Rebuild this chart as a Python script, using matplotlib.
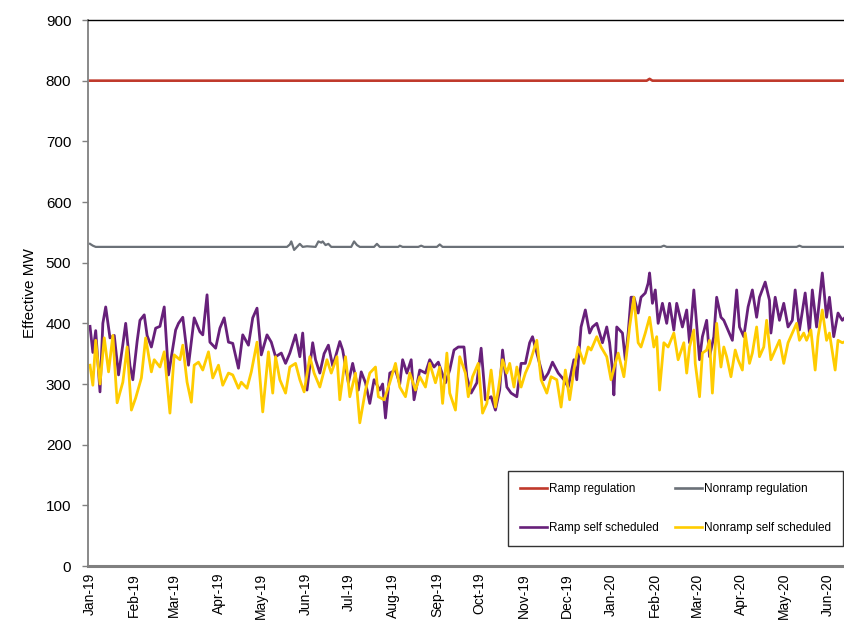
import numpy as np
import pandas as pd
import matplotlib
matplotlib.use("Agg")
import matplotlib.pyplot as plt

plt.rcParams['font.family'] = ['Liberation Sans', 'DejaVu Sans']

# ---------------- data (day offsets from 2019-01-01) ----------------
ramp_reg_days = [0, 390, 392, 394, 529]
ramp_reg_vals = [800, 800, 803, 800, 800]

nonramp_reg_days = [0, 2, 4, 138, 140, 141, 142, 143, 145, 147, 149, 152, 158, 160, 162, 163,
                    165, 167, 169, 183, 185, 187, 189, 199, 201, 203, 216, 217, 219, 230, 232,
                    234, 243, 245, 247, 400, 402, 404, 495, 497, 499, 529]
nonramp_reg_vals = [531, 528, 526, 526, 530, 535, 528, 521, 526, 531, 526, 527, 526, 535, 533, 535,
                    529, 531, 526, 526, 535, 529, 526, 526, 531, 526, 526, 528, 526, 526, 528,
                    526, 526, 530, 526, 526, 528, 526, 526, 528, 526, 526]

ramp_ss_days = [0, 2, 4, 7, 9, 11, 14, 17, 20, 23, 25, 28, 30, 33, 35, 38, 40, 43, 46, 49,
                52, 55, 58, 60, 62, 65, 69, 71, 73, 77, 79, 82, 84, 88, 91, 94, 97, 100, 104, 107,
                111, 114, 117, 120, 124, 127, 130, 134, 137, 140, 144, 147, 149, 152, 156, 158,
                161, 164, 167, 170, 172, 175, 177, 181, 184, 188, 190, 193, 196, 199, 203, 205,
                207, 210, 214, 217, 219, 222, 225, 227, 231, 235, 238, 241, 244, 249, 252, 255,
                258, 262, 264, 267, 271, 274, 277, 281, 284, 287, 289, 292, 295, 299, 302, 305,
                308, 310, 313, 318, 321, 324, 328, 332, 335, 339, 341, 344, 347, 350, 352, 355,
                359, 362, 364, 366, 367, 369, 373, 375, 377, 379, 381, 384, 386, 389, 391, 392,
                394, 396, 398, 401, 404, 406, 409, 411, 415, 418, 420, 423, 427, 429, 432, 434,
                437, 439, 442, 444, 446, 450, 453, 455, 458, 461, 464, 467, 469, 473, 476, 477,
                480, 483, 486, 489, 492, 494, 497, 501, 504, 506, 509, 513, 516, 518, 521, 524,
                527, 529]
ramp_ss_vals = [395, 352, 388, 287, 400, 427, 376, 380, 315, 365, 400, 330, 307, 370, 405, 414, 380, 361, 392, 395,
                427, 315, 360, 389, 400, 410, 331, 370, 409, 386, 381, 447, 369, 359, 392, 409, 369, 367, 326, 381,
                364, 409, 425, 348, 381, 369, 345, 351, 334, 351, 381, 345, 384, 290, 368, 340,
                318, 350, 364, 330, 345, 370, 356, 302, 334, 290, 320, 302, 268, 307, 290, 300,
                244, 318, 323, 300, 340, 318, 340, 274, 323, 318, 340, 328, 336, 302, 323, 356,
                361, 361, 312, 285, 302, 359, 274, 279, 257, 290, 356, 295, 285, 279, 334, 334,
                368, 378, 351, 307, 318, 336, 318, 307, 295, 340, 307, 394, 422, 384, 394, 400,
                368, 394, 368, 323, 282, 394, 384, 340, 384, 443, 443, 417, 443, 450, 466, 483,
                433, 455, 400, 433, 400, 433, 389, 433, 394, 422, 368, 455, 340, 378, 405, 345,
                378, 443, 410, 405, 394, 372, 455, 394, 378, 427, 455, 410, 443, 468, 438, 384,
                443, 405, 433, 394, 405, 455, 389, 450, 384, 455, 394, 483, 410, 443, 378, 417,
                405, 410]

nonramp_ss_days = [0, 2, 4, 7, 10, 13, 16, 19, 23, 26, 29, 32, 36, 39, 43, 45, 49, 52, 56, 59,
                   63, 65, 68, 71, 73, 76, 79, 83, 86, 90, 93, 97, 100, 104, 106, 110, 113, 117, 121, 125,
                   128, 130, 133, 137, 140, 144, 147, 150, 154, 157, 161, 166, 169, 173, 175, 179,
                   182, 186, 189, 193, 196, 200, 202, 206, 210, 214, 217, 221, 224, 228, 231, 235,
                   238, 242, 245, 247, 250, 252, 256, 259, 263, 265, 268, 272, 275, 278, 281, 284,
                   286, 289, 292, 294, 297, 299, 302, 305, 308, 313, 316, 320, 323, 327, 330, 333,
                   336, 339, 342, 346, 349, 351, 355, 358, 362, 365, 368, 370, 374, 376, 378, 381,
                   384, 386, 389, 392, 395, 397, 399, 402, 405, 409, 412, 416, 418, 420, 423, 424,
                   427, 429, 432, 434, 436, 439, 442, 444, 446, 449, 452, 454, 457, 459, 462, 464,
                   467, 469, 472, 474, 477, 480, 483, 486, 489, 492, 495, 497, 500, 502, 505, 508,
                   510, 513, 516, 518, 522, 524, 527, 529]
nonramp_ss_vals = [331, 298, 372, 300, 376, 320, 380, 269, 303, 361, 257, 277, 310, 376, 320, 340, 328, 353, 252, 348,
                   340, 364, 303, 270, 331, 336, 323, 353, 310, 331, 298, 318, 315, 293, 303, 293, 320, 369, 254, 353,
                   285, 345, 307, 285, 328, 334, 307, 287, 345, 318, 295, 340, 318, 345, 274, 345,
                   279, 318, 236, 290, 318, 328, 279, 274, 302, 334, 295, 279, 318, 290, 312, 295,
                   334, 302, 328, 268, 351, 285, 257, 345, 318, 279, 312, 334, 252, 268, 323, 262,
                   290, 340, 318, 334, 295, 328, 295, 318, 334, 372, 307, 285, 312, 307, 262, 323,
                   274, 323, 361, 334, 361, 356, 378, 361, 345, 307, 334, 351, 312, 351, 394, 443,
                   368, 361, 384, 410, 361, 378, 290, 368, 361, 384, 340, 368, 318, 361, 389, 334,
                   279, 351, 356, 372, 285, 400, 328, 361, 345, 312, 356, 340, 323, 384, 334, 351,
                   394, 345, 361, 405, 340, 356, 372, 334, 368, 384, 400, 372, 384, 372, 389, 323,
                   378, 422, 372, 384, 323, 372, 368, 370]

month_labels = ['Jan-19', 'Feb-19', 'Mar-19', 'Apr-19', 'May-19', 'Jun-19', 'Jul-19', 'Aug-19',
                'Sep-19', 'Oct-19', 'Nov-19', 'Dec-19', 'Jan-20', 'Feb-20', 'Mar-20', 'Apr-20',
                'May-20', 'Jun-20']
series_labels = ['Ramp regulation', 'Nonramp regulation', 'Ramp self scheduled', 'Nonramp self scheduled']
y_ticks = [0, 100, 200, 300, 400, 500, 600, 700, 800, 900]

# ---------------- plotting ----------------
start = pd.Timestamp('2019-01-01')


def to_dates(days):
    return start + pd.to_timedelta(np.asarray(days, dtype=float), unit='D')


fig = plt.figure(figsize=(8.44, 6.22), dpi=100)
ax = fig.add_axes([88 / 844, 56 / 622, 756 / 844, 546 / 622])

c_red = '#C0392B'
c_gray = '#6B7178'
c_purple = '#67207A'
c_yellow = '#FFCC00'

l_red, = ax.plot(to_dates(ramp_reg_days), ramp_reg_vals, color=c_red, lw=1.9, label=series_labels[0])
l_gray, = ax.plot(to_dates(nonramp_reg_days), nonramp_reg_vals, color=c_gray, lw=1.6, label=series_labels[1])
l_purple, = ax.plot(to_dates(ramp_ss_days), ramp_ss_vals, color=c_purple, lw=2.0, label=series_labels[2])
l_yellow, = ax.plot(to_dates(nonramp_ss_days), nonramp_ss_vals, color=c_yellow, lw=2.0, label=series_labels[3])

ax.set_ylim(0, 900)
ax.set_yticks(y_ticks)
ax.set_xlim(start - pd.Timedelta(days=1.4), start + pd.Timedelta(days=528.2))

month_pos = pd.date_range('2019-01-01', periods=len(month_labels), freq='MS')
ax.set_xticks(month_pos)
ax.set_xticklabels(month_labels, rotation=90, ha='center', va='top')

ax.tick_params(axis='x', length=0, pad=5, labelsize=10)
ax.tick_params(axis='y', length=4, width=1, color='#808080', pad=8, labelsize=11, direction='out')

ax.set_ylabel('Effective MW', fontsize=11, labelpad=6)

ax.spines['right'].set_visible(False)
ax.spines['top'].set_color('black')
ax.spines['top'].set_linewidth(1.0)
ax.spines['left'].set_color('#808080')
ax.spines['left'].set_linewidth(1.3)
ax.spines['bottom'].set_color('#808080')
ax.spines['bottom'].set_linewidth(2.2)

leg = ax.legend([l_red, l_purple, l_gray, l_yellow],
                [series_labels[0], series_labels[2], series_labels[1], series_labels[3]],
                ncol=2, loc='lower left', mode='expand',
                bbox_to_anchor=(0.5556, 0.0366, 0.443, 0.1447), borderaxespad=0,
                fontsize=8.5, frameon=True, fancybox=False, edgecolor='black',
                handlelength=2.3, handletextpad=0.15, labelspacing=2.3, borderpad=1.0,
                columnspacing=1.0)
leg.get_frame().set_linewidth(1.0)
for h in leg.get_lines():
    h.set_linewidth(1.9)

fig.savefig('out.png', dpi=100)
